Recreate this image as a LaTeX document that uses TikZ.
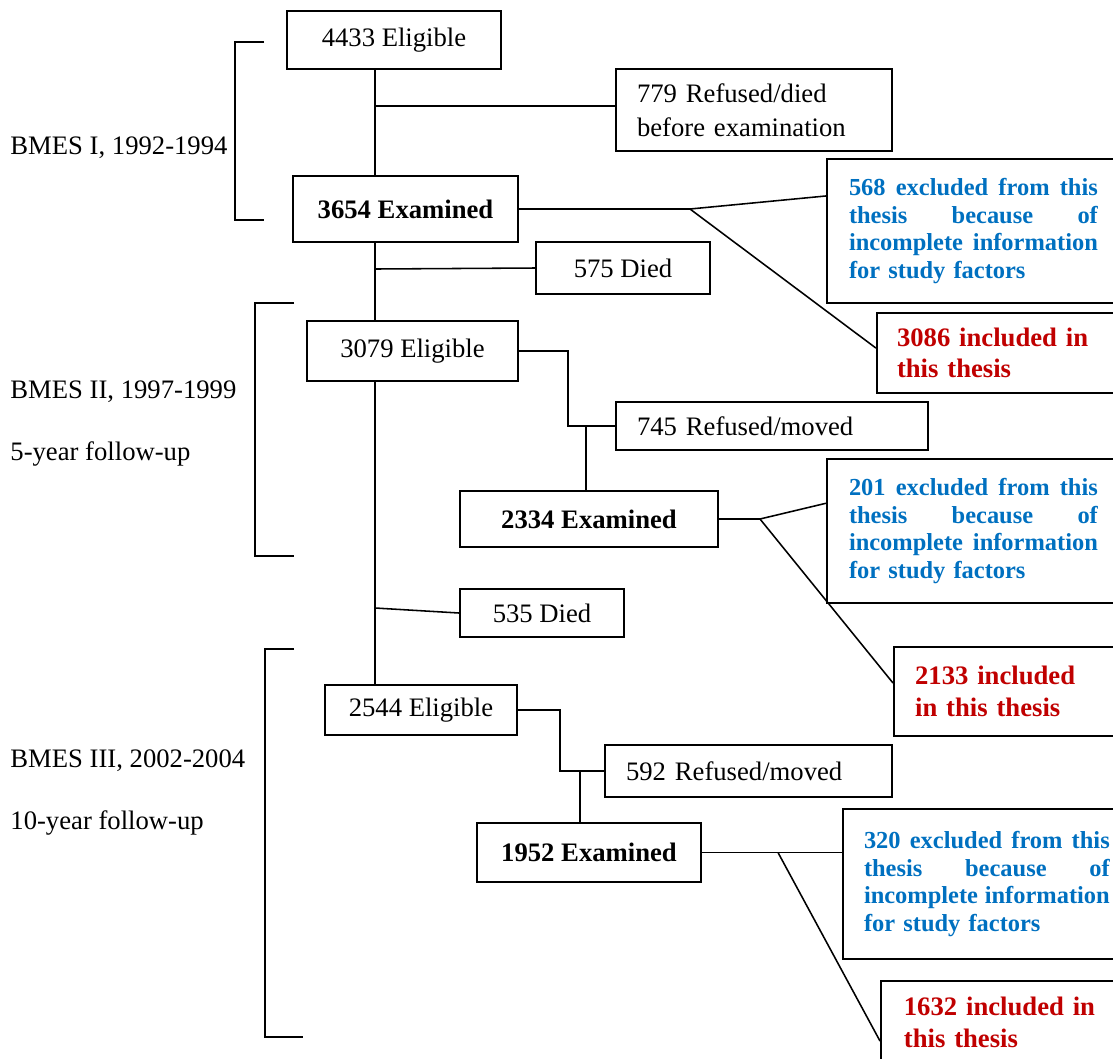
\documentclass[tikz,border=0pt]{standalone}
\usepackage{fontspec}
\setmainfont{Liberation Serif}
\usepackage{tikz}
\usetikzlibrary{calc}

\definecolor{exclblue}{RGB}{0,112,192}
\definecolor{inclred}{RGB}{192,0,0}

\tikzset{
  box/.style={draw, line width=0.9pt, rectangle, inner sep=0pt, font=\fontsize{12}{14}\selectfont},
  boldbox/.style={box, font=\fontsize{12}{14}\selectfont\bfseries},
  leftbox/.style={box, align=left, inner xsep=9.3pt},
  exclbox/.style={draw, line width=0.9pt, anchor=north west, align=left, inner xsep=9.9pt,
    text=exclblue, font=\fontsize{11}{12.5}\selectfont\bfseries, minimum height=64.8pt},
  inclbox/.style={draw, line width=0.9pt, anchor=north west, align=left, inner xsep=9pt,
    text width=103pt, text=inclred, font=\fontsize{12}{14.2}\selectfont\bfseries},
  link/.style={line width=0.7pt},
  cohort/.style={anchor=west, inner sep=0pt, font=\fontsize{12}{14}\selectfont}
}

\begin{document}
\begin{tikzpicture}[x=0.45pt, y=-0.45pt]
  \useasboundingbox (0,0) rectangle (1113,1059);
  \clip (0,0) rectangle (1113,1059);

  % Cohort labels
  \node[cohort] (lab1) at (10,148) {BMES I, 1992-1994};
  \node[cohort] (lab2) at (10,392) {BMES II, 1997-1999};
  \node[cohort] (lab2b) at (10,454) {5-year follow-up};
  \node[cohort] (lab3) at (10,761) {BMES III, 2002-2004};
  \node[cohort] (lab3b) at (10,823) {10-year follow-up};

  % Brackets
  \draw[link] (264,42) -- (235,42) -- (235,220) -- (264,220);
  \draw[link] (294,303) -- (255,303) -- (255,556) -- (294,556);
  \draw[link] (294,649) -- (265,649) -- (265,1037) -- (303,1037);

  % BMES I
  \node[box, minimum width=96.3pt, minimum height=26.1pt] (elig1) at (394,40) {4433 Eligible};
  \node[leftbox, text width=105.3pt, minimum height=36.9pt, font=\fontsize{12}{15.3}\selectfont] (ref1) at (754,110)
    {779 Refused/died\\before examination};
  \node[boldbox, minimum width=101.25pt, minimum height=29.7pt] (exam1) at (405.5,209) {3654 Examined};
  \node[box, minimum width=78.3pt, minimum height=23.4pt] (died1) at (623,268) {575 Died};
  \node[exclbox, text width=112pt] (excl1) at (826,158)
    {568\hfill excluded\hfill from\hfill this\\
     thesis\hfill because\hfill of\\
     incomplete\hfill information\\
     for study factors};
  \node[inclbox, minimum height=36pt] (incl1) at (876,312) {3086 included in\\this thesis};

  % BMES II
  \node[box, minimum width=94.95pt, minimum height=27pt] (elig2) at (412.5,351) {3079 Eligible};
  \node[leftbox, text width=121.5pt, minimum height=21.6pt] (ref2) at (772,426) {745 Refused/moved};
  \node[boldbox, minimum width=116.1pt, minimum height=25.2pt] (exam2) at (589,519) {2334 Examined};
  \node[exclbox, text width=112pt] (excl2) at (826,458)
    {201\hfill excluded\hfill from\hfill this\\
     thesis\hfill because\hfill of\\
     incomplete\hfill information\\
     for study factors};
  \node[inclbox, minimum height=40pt, inner xsep=9.5pt] (incl2) at (893,646) {2133 included\\in this thesis};
  \node[box, minimum width=73.8pt, minimum height=21.6pt] (died2) at (542,613) {535 Died};

  % BMES III
  \node[box, minimum width=86.4pt, minimum height=22.5pt] (elig3) at (421,710) {2544 Eligible};
  \node[leftbox, text width=110.25pt, minimum height=23.4pt] (ref3) at (748.5,771) {592 Refused/moved};
  \node[boldbox, minimum width=100.8pt, minimum height=26.55pt] (exam3) at (589,852.5) {1952 Examined};
  \node[exclbox, text width=110.6pt, minimum height=67.5pt, inner xsep=9.45pt] (excl3) at (842,808)
    {320\hfill excluded\hfill from\hfill this\\
     thesis\hfill because\hfill of\\
     incomplete\hfill information\\
     for study factors};
  \node[inclbox, minimum height=37pt, inner xsep=10.3pt] (incl3) at (880,980) {1632 included in\\this thesis};

  % Main spine
  \coordinate (s1) at (375,106);
  \coordinate (s2) at (375,269);
  \coordinate (s3) at (375,608);
  \draw[link] (elig1.south -| s1) -- (exam1.north -| s1);
  \draw[link] (s1) -- (s1 -| ref1.west);
  \draw[link] (exam1.south -| s1) -- (elig2.north -| s1);
  \draw[link] (s2) -- (died1.west);
  \draw[link] (elig2.south -| s1) -- (elig3.north -| s1);
  \draw[link] (s3) -- (died2.west);

  % Refused / moved steps
  \coordinate (k2) at (568,426);
  \coordinate (t2) at (586,426);
  \draw[link] (elig2.east) -| (k2) -- (ref2.west);
  \draw[link] (t2) -- (t2 |- exam2.north);
  \coordinate (k3) at (560,771);
  \coordinate (t3) at (580,771);
  \draw[link] (elig3.east) -| (k3) -- (ref3.west);
  \draw[link] (t3) -- (t3 |- exam3.north);

  % Excluded / included splits
  \coordinate (j1) at (690,209);
  \draw[link] (exam1.east) -- (j1) -- ($(excl1.north west)!0.26!(excl1.south west)$);
  \draw[link] (j1) -- ([yshift=2.2pt]incl1.west);
  \coordinate (j2) at (760,519);
  \draw[link] (exam2.east) -- (j2) -- ($(excl2.north west)!0.31!(excl2.south west)$);
  \draw[link] (j2) -- ([yshift=3.8pt]incl2.west);
  \coordinate (j3) at (778,852.5);
  \draw[link] (exam3.east) -- (exam3.east -| excl3.west);
  \draw[link] (j3) -- ([yshift=-8.5pt]incl3.west);
\end{tikzpicture}
\end{document}
